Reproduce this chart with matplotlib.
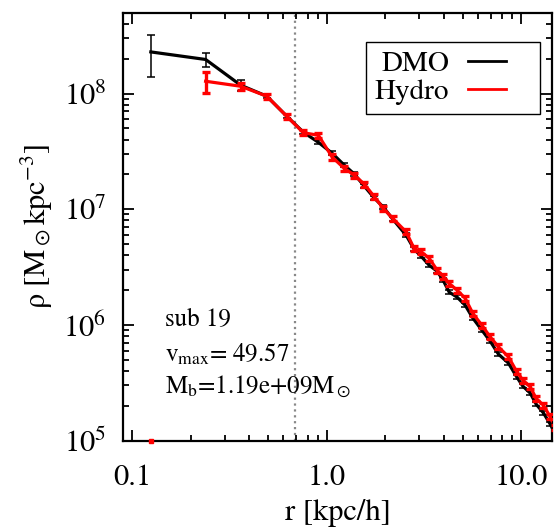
import numpy as np
import matplotlib
matplotlib.use('Agg')
import matplotlib.pyplot as plt
from matplotlib.ticker import FixedLocator, FixedFormatter, LogLocator, NullFormatter
from matplotlib.legend_handler import HandlerLine2D

plt.rcParams['font.family'] = ['STIXGeneral', 'DejaVu Serif']
plt.rcParams['mathtext.fontset'] = 'stix'

# radial bins [kpc/h]
r = np.array([0.125, 0.239, 0.362, 0.493, 0.624, 0.760, 0.907, 1.067, 1.234, 1.390,
              1.564, 1.762, 1.959, 2.190, 2.563, 2.818, 3.062, 3.365, 3.700, 3.972,
              4.265, 4.688, 5.153, 5.646, 6.280, 6.928, 7.643, 8.603, 9.504, 10.20,
              11.13, 11.94, 13.02, 14.10, 15.0])

# density profiles [Msun kpc^-3]
rho_dmo = np.array([2.29e8, 1.97e8, 1.18e8, 9.48e7, 6.37e7, 4.63e7, 3.79e7, 3.05e7, 2.40e7, 2.01e7,
                    1.58e7, 1.245e7, 1.04e7, 8.20e6, 5.96e6, 4.51e6, 3.92e6, 3.28e6, 2.91e6, 2.43e6,
                    1.92e6, 1.735e6, 1.48e6, 1.143e6, 9.00e5, 7.23e5, 5.58e5, 4.67e5, 3.53e5, 2.95e5,
                    2.57e5, 2.06e5, 1.73e5, 1.386e5, 1.136e5])
rho_hydro = np.array([0.0, 1.277e8, 1.156e8, 9.48e7, 6.37e7, 4.58e7, 4.36e7, 2.83e7, 2.25e7, 1.968e7,
                      1.645e7, 1.277e7, 1.014e7, 8.31e6, 6.37e6, 4.57e6, 4.29e6, 3.77e6, 2.97e6, 2.64e6,
                      2.28e6, 1.995e6, 1.70e6, 1.254e6, 9.94e5, 7.87e5, 6.45e5, 5.29e5, 3.92e5, 3.33e5,
                      2.91e5, 2.31e5, 2.02e5, 1.60e5, 1.31e5])

err_dmo = np.r_[[0.9e8, 0.26e8, 0.13e8], 0.04 * rho_dmo[3:]]
err_hydro = np.r_[[0.0, 0.27e8, 0.08e8], 0.05 * rho_hydro[3:]]

r_soft = 0.69
xlim = (0.0899, 14.4)
ylim = (1.0e5, 5.0e8)


class ShortLine(HandlerLine2D):
    # IDL-style legend: line only on the left part of the handle slot
    def create_artists(self, legend, orig_handle, xdescent, ydescent, width, height, fontsize, trans):
        return super().create_artists(legend, orig_handle, xdescent, ydescent,
                                      width * 0.6, height, fontsize, trans)


fig = plt.figure(figsize=(5.6, 5.31), dpi=100)
ax = fig.add_axes([0.2196, 0.1704, 0.7661, 0.8057])

ax.axvline(r_soft, color='#888888', ls=':', lw=1.6, zorder=1)

ok = rho_hydro > 0
ax.errorbar(r, rho_dmo, yerr=err_dmo, color='black', lw=2.3, elinewidth=1.1,
            capsize=2.6, capthick=1.1, zorder=2)
ax.plot([], [], color='black', lw=2.0, label='DMO')
ax.errorbar(r[ok], rho_hydro[ok], yerr=err_hydro[ok], color='red', lw=2.3,
            elinewidth=2.4, capsize=3.0, capthick=2.4, zorder=3)
ax.plot([], [], color='red', lw=2.0, label='Hydro')
# empty hydro bins drawn at the axis floor
ax.plot(r[~ok], np.full((~ok).sum(), ylim[0]), 's', color='red', ms=3,
        clip_on=False, zorder=4)

ax.set_xscale('log')
ax.set_yscale('log')
ax.set_xlim(*xlim)
ax.set_ylim(*ylim)

ax.xaxis.set_major_locator(FixedLocator([0.1, 1.0, 10.0]))
ax.xaxis.set_major_formatter(FixedFormatter(['0.1', '1.0', '10.0']))
ax.xaxis.set_minor_locator(LogLocator(base=10, subs=np.arange(2, 10)))
ax.xaxis.set_minor_formatter(NullFormatter())
ax.yaxis.set_major_locator(FixedLocator([1e5, 1e6, 1e7, 1e8]))
ax.yaxis.set_major_formatter(FixedFormatter([r'$10^5$', r'$10^6$', r'$10^7$', r'$10^8$']))
ax.yaxis.set_minor_locator(LogLocator(base=10, subs=np.arange(2, 10)))
ax.yaxis.set_minor_formatter(NullFormatter())

ax.tick_params(which='both', direction='in', top=True, right=True, width=1.3,
               labelsize=22)
ax.tick_params(which='major', length=8)
ax.tick_params(which='minor', length=4)
ax.tick_params(axis='x', which='major', pad=17)
ax.tick_params(axis='y', which='major', pad=12)
for s in ax.spines.values():
    s.set_linewidth(1.6)

ax.set_xlabel('r [kpc/h]', fontsize=22, labelpad=5)
ax.set_ylabel(r'ρ [M$_\odot$kpc$^{-3}$]', fontsize=22, labelpad=6)

ax.text(0.098, 0.282, 'sub 19', transform=ax.transAxes, fontsize=18, va='center')
ax.text(0.098, 0.200, r'v$_{\rm max}$= 49.57', transform=ax.transAxes, fontsize=18, va='center')
ax.text(0.098, 0.125, r'M$_{\rm b}$=1.19e+09M$_\odot$', transform=ax.transAxes, fontsize=18, va='center')

leg = ax.legend(loc='upper right', bbox_to_anchor=(0.972, 0.9315), borderaxespad=0,
                markerfirst=False, fontsize=21, fancybox=False, framealpha=1,
                edgecolor='black', handlelength=2.16, handletextpad=0.65,
                labelspacing=0.05, borderpad=0.3,
                handler_map={plt.Line2D: ShortLine()})
leg.get_frame().set_linewidth(1.0)

fig.savefig('out.png', dpi=100)
